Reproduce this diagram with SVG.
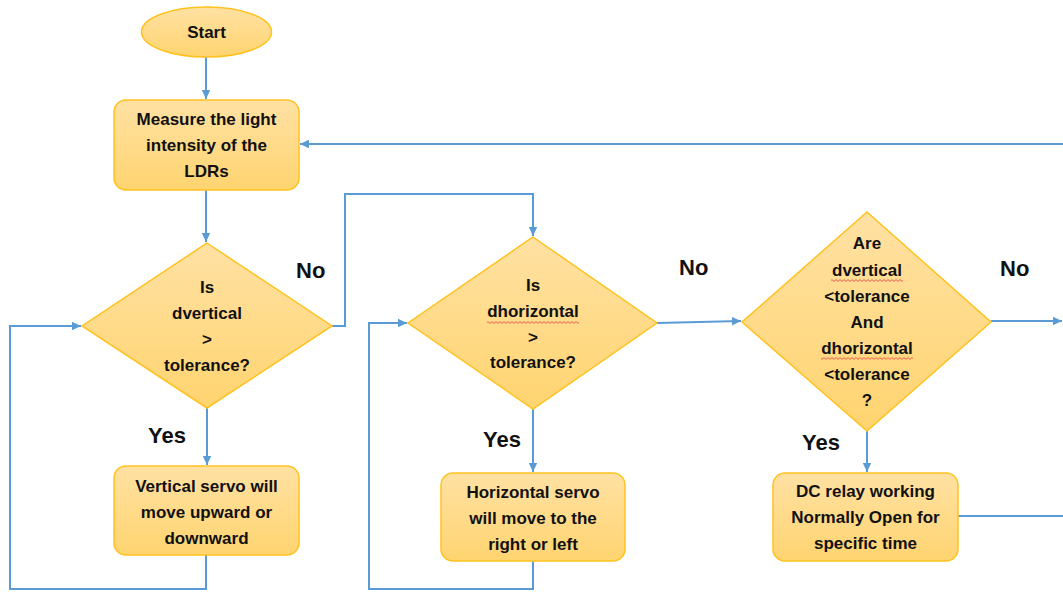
<svg xmlns="http://www.w3.org/2000/svg" width="1063" height="592" viewBox="0 0 1063 592">
<defs>
<linearGradient id="fillG" x1="0" y1="0" x2="0" y2="1">
<stop offset="0" stop-color="#FFE1A3"/>
<stop offset="1" stop-color="#FFD470"/>
</linearGradient>
<marker id="arr" markerWidth="10" markerHeight="10" refX="9" refY="5" orient="auto" markerUnits="userSpaceOnUse">
<path d="M0,0.8 L9,5 L0,9.2 Z" fill="#5B9BD5"/>
</marker>
<pattern id="sq" width="4" height="3" patternUnits="userSpaceOnUse">
<path d="M0,0.6 L2,2.4 L4,0.6" stroke="#E23B3B" stroke-width="0.8" fill="none"/>
</pattern>
<style>
.node{fill:url(#fillG);stroke:#FFC21F;stroke-width:1.5}
.t{font-family:'Liberation Sans',Arial,sans-serif;font-weight:bold;font-size:17px;fill:#111;text-anchor:middle}
.lbl{font-family:'Liberation Sans',Arial,sans-serif;font-weight:bold;font-size:22px;fill:#111}
.c{fill:none;stroke:#5B9BD5;stroke-width:2}
.a{marker-end:url(#arr)}
</style>
</defs>
<rect width="1063" height="592" fill="#FFFFFF"/>

<g id="connectors">
<path class="c a" d="M206,57 V99"/>
<path class="c a" d="M206,190 V242"/>
<path class="c a" d="M207,408 V465"/>
<path class="c a" d="M206,555 V589 H10 V326 H81"/>
<path class="c a" d="M332,326 H345 V194 H533 V236"/>
<path class="c a" d="M533,409 V472"/>
<path class="c a" d="M533,561 V589 H369 V323 H407"/>
<path class="c a" d="M657,323 L741,321"/>
<path class="c a" d="M867,431 V472"/>
<path class="c a" d="M991,321 H1062"/>
<path class="c" d="M958,516 H1063"/>
<path class="c a" d="M1063,144 H300"/>
</g>

<g id="start">
<ellipse class="node" cx="206.5" cy="32" rx="65" ry="25"/>
<text class="t" x="206.5" y="38">Start</text>
</g>

<g id="measure">
<rect class="node" x="114" y="100" width="185" height="90" rx="12"/>
<text class="t" x="206.5" y="125">Measure the light</text>
<text class="t" x="206.5" y="151">intensity of the</text>
<text class="t" x="206.5" y="177">LDRs</text>
</g>

<g id="decision-vertical">
<polygon class="node" points="207,243 332,326 207,408 82,326"/>
<text class="t" x="207" y="293">Is</text>
<text class="t" x="207" y="319">dvertical</text>
<text class="t" x="207" y="345">&gt;</text>
<text class="t" x="207" y="371">tolerance?</text>
</g>

<g id="vertical-servo">
<rect class="node" x="114" y="466" width="185" height="89" rx="12"/>
<text class="t" x="206.5" y="492">Vertical servo will</text>
<text class="t" x="206.5" y="518">move upward or</text>
<text class="t" x="206.5" y="544">downward</text>
</g>

<g id="decision-horizontal">
<polygon class="node" points="533,237 657,323 533,409 408,323"/>
<text class="t" x="533" y="291">Is</text>
<text class="t" x="533" y="317">dhorizontal</text>
<rect x="487" y="321" width="92" height="3" fill="url(#sq)"/>
<text class="t" x="533" y="343">&gt;</text>
<text class="t" x="533" y="368">tolerance?</text>
</g>

<g id="horizontal-servo">
<rect class="node" x="441" y="473" width="184" height="88" rx="12"/>
<text class="t" x="533" y="498">Horizontal servo</text>
<text class="t" x="533" y="524">will move to the</text>
<text class="t" x="533" y="550">right or left</text>
</g>

<g id="decision-both">
<polygon class="node" points="867,212 991,322 867,431 742,322"/>
<text class="t" x="867" y="249">Are</text>
<text class="t" x="867" y="276">dvertical</text>
<rect x="831" y="279" width="72" height="3" fill="url(#sq)"/>
<text class="t" x="867" y="302">&lt;tolerance</text>
<text class="t" x="867" y="328">And</text>
<text class="t" x="867" y="354">dhorizontal</text>
<rect x="821" y="357" width="92" height="3" fill="url(#sq)"/>
<text class="t" x="867" y="380">&lt;tolerance</text>
<text class="t" x="867" y="406">?</text>
</g>

<g id="dc-relay">
<rect class="node" x="773" y="473" width="185" height="88" rx="12"/>
<text class="t" x="865.5" y="497">DC relay working</text>
<text class="t" x="865.5" y="523">Normally Open for</text>
<text class="t" x="865.5" y="549">specific time</text>
</g>

<g id="labels">
<text class="lbl" x="296" y="278">No</text>
<text class="lbl" x="148" y="443">Yes</text>
<text class="lbl" x="679" y="275">No</text>
<text class="lbl" x="483" y="447">Yes</text>
<text class="lbl" x="1000" y="276">No</text>
<text class="lbl" x="802" y="450">Yes</text>
</g>
</svg>
